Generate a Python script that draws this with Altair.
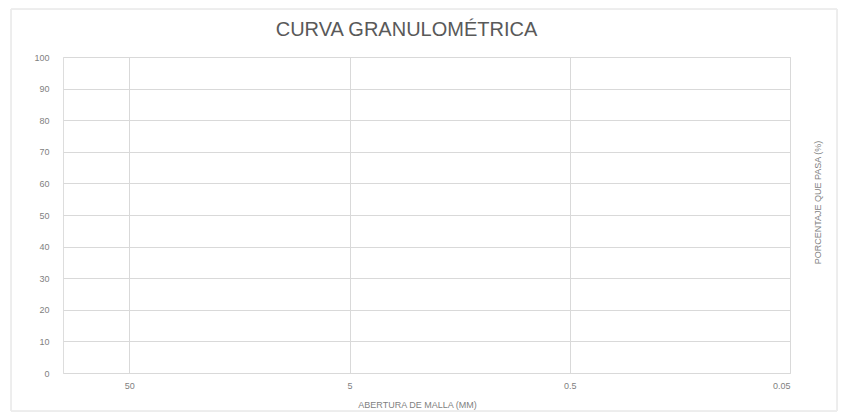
import altair as alt
import pandas as pd

# Axis values (empty grading chart)
x_ticks = [50, 5, 0.5, 0.05]
y_ticks = [0, 10, 20, 30, 40, 50, 60, 70, 80, 90, 100]
x_domain = [0.05, 100]
y_domain = [0, 100]

title_text = "CURVA GRANULOMÉTRICA"
x_title = "ABERTURA DE MALLA (MM)"
y_title = "PORCENTAJE QUE PASA (%)"

W, H = 727, 316
FONT = "Liberation Sans"
TXT = "#7f7f7f"
GRID = "#d9d9d9"

df = pd.DataFrame({"abertura": x_ticks, "pasa": [0, 100, 0, 100]})

base = alt.Chart(df)

xscale = alt.Scale(type="log", domain=x_domain, reverse=True, nice=False)
yscale = alt.Scale(domain=y_domain, nice=False, zero=True)

pts = base.mark_point(opacity=0).encode(
    x=alt.X("abertura:Q", scale=xscale,
            axis=alt.Axis(values=x_ticks, format="~g", grid=True, gridColor=GRID,
                          ticks=False, domain=False, labelFont=FONT, labelFontSize=9,
                          labelColor=TXT, labelPadding=8, title=x_title,
                          titleFont=FONT, titleFontSize=9, titleColor=TXT,
                          titleFontWeight="normal", titlePadding=10, titleX=354)),
    y=alt.Y("pasa:Q", scale=yscale,
            axis=alt.Axis(values=y_ticks, grid=True, gridColor=GRID, ticks=False,
                          domain=False, labelFont=FONT, labelFontSize=9,
                          labelColor=TXT, labelPadding=14, title=None)),
)

right = base.mark_point(opacity=0).encode(
    y=alt.Y("pasa:Q", scale=yscale,
            axis=alt.Axis(orient="right", labels=False, ticks=False, domain=False,
                          grid=False, title=y_title, titleAngle=270, titleY=145,
                          titleFont=FONT, titleFontSize=9, titleColor=TXT,
                          titleFontWeight="normal", titlePadding=32)),
)

border = base.mark_rect(fill=None, stroke="#ececec", strokeWidth=1).encode(
    x=alt.value(-52), x2=alt.value(W + 47), y=alt.value(-48), y2=alt.value(H + 38)
)

chart = alt.layer(border, pts, right).resolve_axis(y="independent").properties(
    width=W, height=H,
    title=alt.TitleParams(title_text, font=FONT, fontSize=20, fontWeight="normal",
                          color="#595959", offset=13, dx=-20, dy=44, frame="group"),
    autosize=alt.AutoSizeParams(type="none"),
    padding={"left": 55, "top": 49, "right": 48, "bottom": 44},
).configure_view(stroke=None).configure(background="white")

chart.save("out.html", embed_options={"renderer": "svg", "actions": False})
